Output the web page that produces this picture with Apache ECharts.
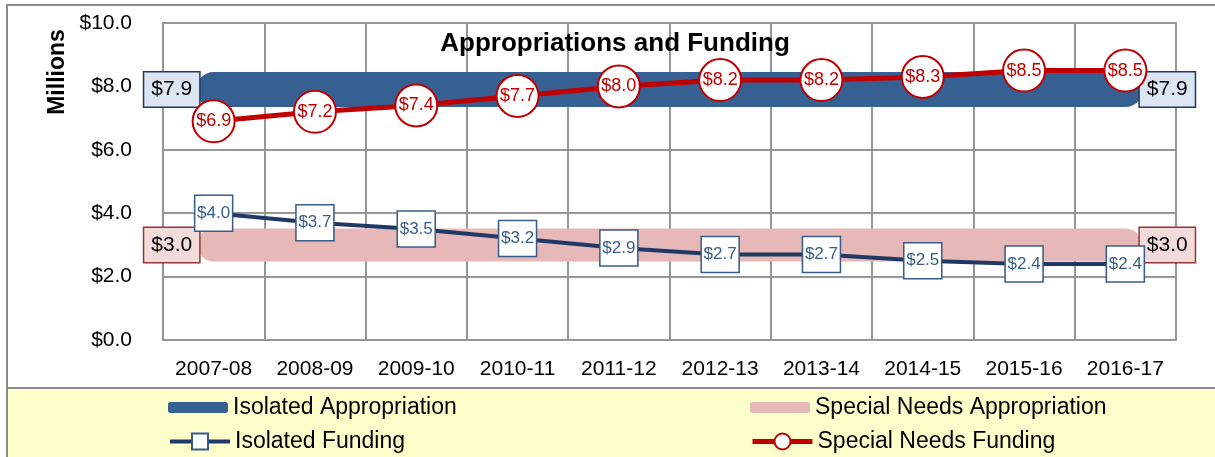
<!DOCTYPE html>
<html>
<head>
<meta charset="utf-8">
<script src="https://cdn.jsdelivr.net/npm/echarts@6/dist/echarts.min.js"></script>
<style>
  html, body { margin: 0; padding: 0; background: #fff; }
  #chart { width: 1215px; height: 457px; }
</style>
</head>
<body>
<div id="chart"></div>
<script>
// data (millions of dollars)
const years = ['2007-08', '2008-09', '2009-10', '2010-11', '2011-12', '2012-13', '2013-14', '2014-15', '2015-16', '2016-17'];
const isolatedApprop = [7.9, 7.9, 7.9, 7.9, 7.9, 7.9, 7.9, 7.9, 7.9, 7.9];
const specialApprop = [3.0, 3.0, 3.0, 3.0, 3.0, 3.0, 3.0, 3.0, 3.0, 3.0];
const isolatedFunding = [4.0, 3.7, 3.5, 3.2, 2.9, 2.7, 2.7, 2.5, 2.4, 2.4];
const specialFunding = [6.9, 7.2, 7.4, 7.7, 8.0, 8.2, 8.2, 8.3, 8.5, 8.5];
const yTicks = [0, 2, 4, 6, 8, 10];

const FONT = 'Liberation Sans, Arial, sans-serif';
const GRIDC = '#969696';

const money = v => '$' + Number(v).toFixed(1);

// only the first and last point of an appropriation band gets a boxed label
function endLabels(arr, bg, border) {
  return arr.map((v, i) => {
    if (i !== 0 && i !== arr.length - 1) return v;
    return {
      value: v,
      label: {
        show: true,
        position: i === 0 ? 'left' : 'right',
        distance: 14,
        formatter: p => money(p.value),
        fontFamily: FONT,
        fontSize: 21,
        color: '#000',
        backgroundColor: bg,
        borderColor: border,
        borderWidth: 1.5,
        padding: [7, 7, 6, 7]
      }
    };
  });
}

const legendText = { fontFamily: FONT, fontSize: 23, color: '#000' };

const chartDom = document.getElementById('chart');
const myChart = echarts.init(chartDom);

const option = {
  animation: false,
  textStyle: { fontFamily: FONT },
  grid: {
    left: 163, right: 39, top: 23, bottom: 117,
    show: true, borderColor: GRIDC, borderWidth: 2
  },
  graphic: [
    // outer frame
    {
      type: 'rect', silent: true, z: -10,
      shape: { x: 7, y: 5, width: 1230, height: 470 },
      style: { fill: null, stroke: '#8c8c8c', lineWidth: 2 }
    },
    // legend background
    {
      type: 'rect', silent: true, z: -9,
      shape: { x: 8, y: 388, width: 1230, height: 80 },
      style: { fill: '#ffffcc', stroke: null }
    },
    {
      type: 'line', silent: true, z: -8,
      shape: { x1: 8, y1: 388, x2: 1215, y2: 388 },
      style: { stroke: '#8c8c8c', lineWidth: 2 }
    },
    {
      type: 'text', silent: true, z: 10,
      x: 615, y: 44,
      style: {
        text: 'Appropriations and Funding',
        fontFamily: FONT, fontSize: 26, fontWeight: 'bold',
        fill: '#000', align: 'center', verticalAlign: 'middle'
      }
    },
    {
      type: 'text', silent: true,
      x: 58, y: 72, rotation: Math.PI / 2,
      style: {
        text: 'Millions',
        fontFamily: FONT, fontSize: 23, fontWeight: 'bold',
        fill: '#000', align: 'center', verticalAlign: 'middle'
      }
    }
  ],
  legend: [
    {
      data: [{ name: 'Isolated Appropriation', icon: 'roundRect' }],
      left: 168, top: 396, padding: 0, itemWidth: 60, itemHeight: 11,
      selectedMode: false, textStyle: legendText
    },
    {
      data: [{ name: 'Isolated Funding', lineStyle: { width: 4 } }],
      left: 168, top: 430, padding: 0, itemWidth: 60, itemHeight: 20,
      selectedMode: false, textStyle: legendText
    },
    {
      data: [{ name: 'Special Needs Appropriation', icon: 'roundRect' }],
      left: 750, top: 396, padding: 0, itemWidth: 60, itemHeight: 11,
      selectedMode: false, textStyle: legendText
    },
    {
      data: [{ name: 'Special Needs Funding', lineStyle: { width: 5 } }],
      left: 750, top: 430, padding: 0, itemWidth: 60, itemHeight: 20,
      selectedMode: false, textStyle: legendText
    }
  ],
  xAxis: {
    type: 'category',
    data: years,
    boundaryGap: true,
    axisLine: { lineStyle: { color: GRIDC, width: 2 } },
    axisTick: { show: false },
    splitLine: { show: true, interval: 0, lineStyle: { color: GRIDC, width: 2 } },
    axisLabel: { interval: 0, margin: 19, fontSize: 21, color: '#000', fontFamily: FONT }
  },
  yAxis: {
    type: 'value',
    min: yTicks[0],
    max: yTicks[yTicks.length - 1],
    interval: 2,
    axisLine: { show: true, lineStyle: { color: GRIDC, width: 2 } },
    axisTick: { show: false },
    splitLine: { lineStyle: { color: GRIDC, width: 2 } },
    axisLabel: { formatter: v => money(v), margin: 31, fontSize: 21, color: '#000', fontFamily: FONT }
  },
  series: [
    {
      name: 'Isolated Appropriation',
      type: 'line',
      data: endLabels(isolatedApprop, '#dce6f2', '#1f3864'),
      symbol: 'circle', symbolSize: 1,
      itemStyle: { color: '#376092' },
      lineStyle: { color: '#376092', width: 35, cap: 'round', join: 'round' },
      z: 2
    },
    {
      name: 'Special Needs Appropriation',
      type: 'line',
      data: endLabels(specialApprop, '#f2dcdb', '#953735'),
      symbol: 'circle', symbolSize: 1,
      itemStyle: { color: '#e6b9b8' },
      lineStyle: { color: '#e6b9b8', width: 33, cap: 'round', join: 'round' },
      z: 2
    },
    {
      name: 'Isolated Funding',
      type: 'line',
      data: isolatedFunding,
      symbol: 'rect', symbolSize: [38, 36],
      itemStyle: { color: '#ffffff', borderColor: '#385d8a', borderWidth: 1.5 },
      lineStyle: { color: '#1f3864', width: 4 },
      label: {
        show: true, position: 'inside',
        formatter: p => money(p.value),
        fontFamily: FONT, fontSize: 17, color: '#385d8a'
      },
      z: 3
    },
    {
      name: 'Special Needs Funding',
      type: 'line',
      data: specialFunding,
      symbol: 'circle', symbolSize: 42,
      itemStyle: { color: '#ffffff', borderColor: '#c00000', borderWidth: 2 },
      lineStyle: { color: '#c00000', width: 5 },
      label: {
        show: true, position: 'inside',
        formatter: p => money(p.value),
        fontFamily: FONT, fontSize: 18, color: '#c00000'
      },
      z: 3
    }
  ]
};

myChart.setOption(option);
</script>
</body>
</html>
